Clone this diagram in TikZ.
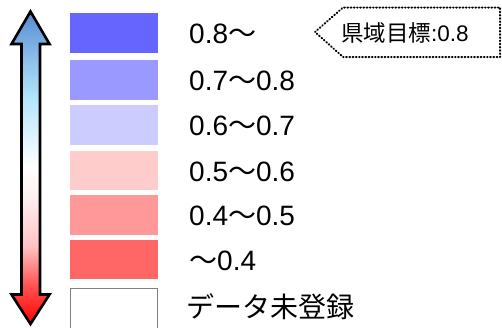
\documentclass[tikz,border=0pt]{standalone}
\usepackage{fontspec}
\setmainfont{Liberation Sans}
\newfontfamily\jp{Noto Sans CJK JP}
\newcommand{\tl}{{\jp ～}}
\definecolor{arR}{RGB}{255,0,0}
\definecolor{arA}{RGB}{255,80,80}
\definecolor{arB}{RGB}{255,195,195}
\definecolor{arC}{RGB}{255,238,238}
\definecolor{arD}{RGB}{215,242,255}
\definecolor{arE}{RGB}{180,230,252}
\definecolor{arF}{RGB}{140,190,235}
\definecolor{arG}{RGB}{85,140,210}
\pgfdeclareverticalshading{arrowshade}{100bp}{%
color(0bp)=(arR);
color(25bp)=(arR);
color(31bp)=(arA);
color(37.5bp)=(arB);
color(45bp)=(arC);
color(50bp)=(white);
color(56bp)=(arD);
color(61bp)=(arE);
color(67.5bp)=(arF);
color(75bp)=(arG);
color(100bp)=(arG)}
\definecolor{c1}{HTML}{6666FF}
\definecolor{c2}{HTML}{9999FF}
\definecolor{c3}{HTML}{CCCCFF}
\definecolor{c4}{HTML}{FFCCCC}
\definecolor{c5}{HTML}{FF9999}
\definecolor{c6}{HTML}{FF6666}
\begin{document}
\begin{tikzpicture}[x=1pt,y=-1pt,
  lbl/.style={anchor=base west,inner sep=0pt,font=\fontsize{28}{31}\selectfont},
  goal/.style={anchor=base west,inner sep=0pt,font=\fontsize{22.5}{26}\selectfont},
  callout/.style={line width=2pt,line cap=round,line join=round,dash pattern=on 0.7pt off 2.5pt}]
\useasboundingbox (0,0) rectangle (502,327);
\clip (0,0) rectangle (502,327);
% double arrow
\draw[line width=2.6pt,line join=miter,shading=arrowshade]
  (30.5,11.5) -- (49.5,44) -- (40,44) -- (40,294.5) -- (49.5,294.5) -- (30.5,324)
  -- (11.5,294.5) -- (21.5,294.5) -- (21.5,44) -- (11.5,44) -- cycle;
% swatches
\fill[c1] (70,13) rectangle (158,53);
\fill[c2] (70,60) rectangle (158,99.5);
\fill[c3] (70,105) rectangle (158,144.5);
\fill[c4] (70,151) rectangle (158,190);
\fill[c5] (70,195) rectangle (158,234.5);
\fill[c6] (70,240) rectangle (158,279);
\draw[gray,line width=1pt] (70.5,288.5) rectangle (157.5,335);
% labels
\node[lbl] (l1) at (189,43.5) {0.8\tl};
\node[lbl] (l2) at (189,90) {0.7\tl 0.8};
\node[lbl] (l3) at (189,135) {0.6\tl 0.7};
\node[lbl] (l4) at (189,181) {0.5\tl 0.6};
\node[lbl] (l5) at (189,225) {0.4\tl 0.5};
\node[lbl] (l6) at (189,270) {\tl 0.4};
\node[lbl] (l7) at (186,317) {\jp データ未登録};
% callout
\draw[callout] (315,32) -- (343,7.5) -- (500,7.5) -- (500,57) -- (343,57) -- cycle;
\node[goal] (g) at (341,41.5) {{\jp 県域目標}:0.8};
\end{tikzpicture}
\end{document}
